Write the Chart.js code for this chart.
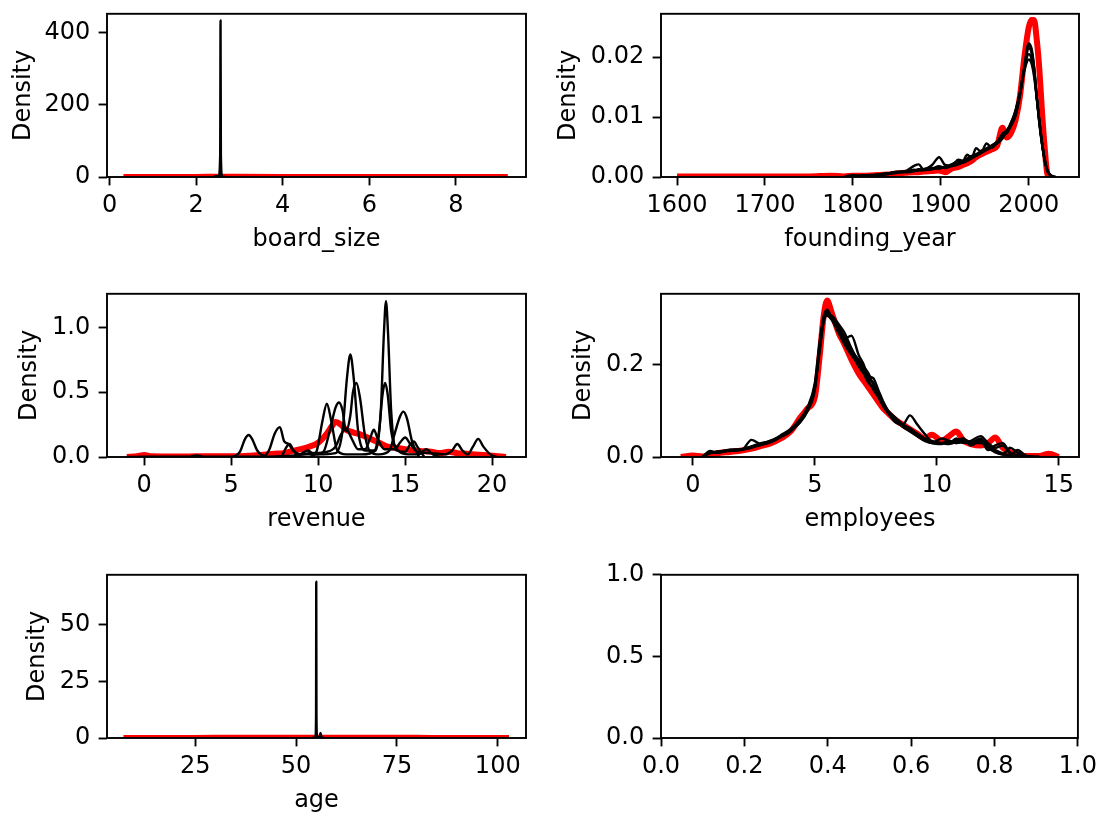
<!DOCTYPE html>
<html>
<head>
<meta charset="utf-8">
<script src="https://cdn.jsdelivr.net/npm/chart.js@4.4.1/dist/chart.umd.min.js"></script>
<style>
html, body { margin: 0; padding: 0; background: #fff; }
body { width: 1103px; height: 818px; position: relative; overflow: hidden; }
canvas { position: absolute; }
</style>
</head>
<body>
<canvas id="board" width="550" height="266" style="left:0px;top:-9px"></canvas>
<canvas id="found" width="553" height="266" style="left:550px;top:-9px"></canvas>
<canvas id="revenue" width="550" height="266" style="left:0px;top:271px"></canvas>
<canvas id="employees" width="553" height="266" style="left:550px;top:271px"></canvas>
<canvas id="age" width="550" height="266" style="left:0px;top:552px"></canvas>
<canvas id="empty" width="553" height="266" style="left:550px;top:552px"></canvas>
<script>
// board_size
var boardRedX = [0.32, 1.0, 2.0, 2.56, 3.0, 4.0, 5.0, 6.0, 7.0, 8.0, 9.2];
var boardRedY = [0.05, 0.1, 0.3, 0.5, 0.4, 0.3, 0.25, 0.2, 0.15, 0.1, 0.05];
var boardX = [2.40, 2.47, 2.52, 2.555, 2.563, 2.571, 2.60, 2.70];
var boardY = [0, 2.5, 1, 60, 434, 60, 1, 0];
var boardXTicks = ['0', '2', '4', '6', '8'];
var boardYTicks = ['0', '200', '400'];

// founding_year
var foundX = [1600, 1650, 1700, 1750, 1775, 1790, 1800, 1810, 1825, 1840, 1850, 1860, 1870, 1875, 1880, 1890, 1898, 1905, 1912, 1920, 1925, 1930, 1935, 1940, 1946, 1952, 1958, 1964, 1970, 1975, 1980, 1985, 1990, 1995, 2000, 2003, 2006, 2009, 2012, 2015, 2018, 2021, 2024, 2027, 2030, 2035];
var foundRed = [0.0001, 0.0001, 0.0001, 0.0001, 0.0002, 0.0001, 0.0002, 0.0002, 0.0003, 0.0004, 0.0006, 0.0007, 0.0008, 0.0008, 0.0009, 0.001, 0.0011, 0.0008, 0.0014, 0.0017, 0.002, 0.0023, 0.0027, 0.0033, 0.0038, 0.0042, 0.0046, 0.0052, 0.0082, 0.0066, 0.0074, 0.0095, 0.0135, 0.020, 0.025, 0.0262, 0.0262, 0.023, 0.018, 0.011, 0.005, 0.0006, 0, null, null, null];
var found1 = [null, null, null, null, null, 0, 0.0003, 0.0001, 0.0003, 0.0006, 0.0008, 0.001, 0.0019, 0.0021, 0.0013, 0.002, 0.0033, 0.002, 0.0019, 0.0029, 0.0027, 0.0037, 0.0032, 0.0048, 0.0042, 0.0056, 0.0049, 0.0058, 0.0072, 0.0078, 0.0088, 0.0108, 0.014, 0.0185, 0.0223, 0.0215, 0.0185, 0.0135, 0.009, 0.0055, 0.0028, 0.001, 0.0004, 0.0001, 0, null];
var found2 = [null, null, null, null, null, null, 0.0001, 0.0002, 0.0003, 0.0005, 0.0007, 0.0009, 0.001, 0.0011, 0.0012, 0.0014, 0.0016, 0.0017, 0.0019, 0.0022, 0.0024, 0.0027, 0.0031, 0.0035, 0.004, 0.0045, 0.005, 0.0057, 0.0066, 0.0077, 0.009, 0.0112, 0.0141, 0.0178, 0.0196, 0.019, 0.0168, 0.0132, 0.0094, 0.0058, 0.003, 0.0012, 0.0004, 0.0001, 0, null];
var found3 = [null, null, null, null, null, null, 0.0001, 0.0002, 0.0004, 0.0006, 0.0008, 0.0009, 0.0011, 0.0012, 0.0011, 0.0013, 0.0015, 0.0016, 0.0021, 0.0026, 0.0024, 0.0031, 0.0033, 0.0038, 0.0043, 0.0047, 0.0052, 0.0058, 0.0068, 0.0074, 0.0088, 0.0105, 0.0138, 0.018, 0.0215, 0.0208, 0.018, 0.0135, 0.0093, 0.0057, 0.0029, 0.0011, 0.0004, 0.0001, 0, null];
var found4 = [null, null, null, null, null, null, 0.0002, 0.0002, 0.0003, 0.0005, 0.0009, 0.0009, 0.0012, 0.0011, 0.0013, 0.0015, 0.0014, 0.0017, 0.0018, 0.0021, 0.0025, 0.0028, 0.0034, 0.0037, 0.0041, 0.0048, 0.0051, 0.0056, 0.0064, 0.0076, 0.0092, 0.011, 0.0142, 0.0182, 0.0205, 0.0198, 0.0175, 0.0134, 0.0095, 0.0058, 0.003, 0.0012, 0.0004, 0.0001, 0, null];
var found5 = [null, null, null, null, null, null, 0.0001, 0.0002, 0.0003, 0.0006, 0.0008, 0.0008, 0.001, 0.0013, 0.0012, 0.0014, 0.0018, 0.0015, 0.0019, 0.0023, 0.0027, 0.003, 0.0035, 0.0036, 0.0044, 0.0046, 0.0053, 0.0059, 0.007, 0.0073, 0.0086, 0.0102, 0.0136, 0.0183, 0.022, 0.0212, 0.0182, 0.0133, 0.0091, 0.0056, 0.0028, 0.0011, 0.0004, 0.0001, 0, null];
var foundXTicks = ['1600', '1700', '1800', '1900', '2000'];
var foundYTicks = ['0.00', '0.01', '0.02'];

// revenue
var revRedX = [-1.0, -0.4, 0.0, 0.4, 1.0, 2, 3, 4, 5, 6, 7, 7.5, 8, 8.5, 9, 9.5, 10, 10.5, 10.8, 11.0, 11.3, 11.6, 12.0, 12.5, 13.0, 13.5, 14.0, 14.5, 15.0, 15.5, 16.0, 16.5, 17.0, 17.5, 18.0, 18.5, 19.0, 19.5, 20.0, 20.8];
var revRedY = [0, 0.005, 0.015, 0.005, 0.004, 0.004, 0.005, 0.005, 0.006, 0.01, 0.02, 0.025, 0.03, 0.045, 0.06, 0.08, 0.11, 0.18, 0.24, 0.27, 0.25, 0.21, 0.19, 0.17, 0.14, 0.11, 0.08, 0.07, 0.06, 0.05, 0.045, 0.04, 0.03, 0.04, 0.03, 0.025, 0.02, 0.015, 0.01, 0];
var revX1 = [5.1, 5.5, 5.8, 6.0, 6.2, 6.5, 6.9, 7.2, 7.5, 7.8, 8.05, 8.3, 8.55, 8.9, 9.3];
var revY1 = [0, 0.04, 0.14, 0.17, 0.14, 0.05, 0.01, 0.06, 0.18, 0.23, 0.12, 0.1, 0.05, 0.01, 0];
var revX2 = [9.5, 9.9, 10.25, 10.5, 10.75, 11.1, 11.6, 12.5, 13.3, 13.6, 13.78, 13.9, 14.02, 14.2, 14.5, 15.0, 15.3, 15.5, 15.7, 16.1];
var revY2 = [0, 0.04, 0.28, 0.41, 0.28, 0.05, 0.02, 0.02, 0.05, 0.35, 0.95, 1.2, 0.95, 0.35, 0.05, 0.04, 0.1, 0.12, 0.08, 0];
var revX3 = [8.7, 9.1, 9.4, 9.8, 10.3, 10.7, 11.0, 11.2, 11.4, 11.6, 11.85, 12.0, 12.2, 12.4, 12.7, 13.0, 13.5, 14.1, 14.4, 14.7, 14.9, 15.1, 15.4, 15.8];
var revY3 = [0, 0.03, 0.05, 0.02, 0.04, 0.22, 0.38, 0.42, 0.36, 0.2, 0.32, 0.5, 0.57, 0.46, 0.16, 0.04, 0.02, 0.05, 0.18, 0.31, 0.35, 0.3, 0.12, 0];
var revX4 = [7.9, 8.15, 8.35, 8.6, 9.0, 10.0, 11.0, 11.4, 11.65, 11.85, 12.05, 12.3, 12.7, 13.2, 13.5, 13.7, 13.85, 14.0, 14.2, 14.6, 15.2, 15.8, 16.2, 16.6, 17.0];
var revY4 = [0, 0.07, 0.1, 0.05, 0.02, 0.02, 0.03, 0.2, 0.6, 0.79, 0.6, 0.2, 0.05, 0.05, 0.2, 0.48, 0.57, 0.48, 0.2, 0.05, 0.02, 0.02, 0.06, 0.02, 0];
var revX5 = [-1.0, 0.0, 1.5, 2.6, 3.0, 3.4, 5.0, 7.0, 8.5, 9.5, 10.5, 11.0, 11.3, 11.6, 11.9, 12.3, 12.7, 13.0, 13.2, 13.4, 13.8, 14.4, 14.7, 15.0, 15.3, 15.7, 16.5, 17.3, 17.7, 18.0, 18.3, 18.6, 18.9, 19.2, 19.5, 19.9, 20.3];
var revY5 = [0, 0.002, 0.002, 0.003, 0.012, 0.003, 0.002, 0.003, 0.01, 0.03, 0.04, 0.08, 0.17, 0.22, 0.15, 0.06, 0.06, 0.15, 0.21, 0.15, 0.06, 0.06, 0.11, 0.15, 0.1, 0.04, 0.03, 0.02, 0.05, 0.1, 0.05, 0.02, 0.08, 0.14, 0.08, 0.02, 0];
var revXTicks = ['0', '5', '10', '15', '20'];
var revYTicks = ['0.0', '0.5', '1.0'];

// employees
var empX = [-0.5, 0, 0.4, 0.7, 1.0, 1.5, 2.0, 2.4, 2.8, 3.2, 3.6, 4.0, 4.4, 4.7, 5.0, 5.2, 5.35, 5.5, 5.7, 6.0, 6.2, 6.5, 6.8, 7.0, 7.2, 7.4, 7.6, 7.8, 8.0, 8.3, 8.6, 8.9, 9.2, 9.5, 9.8, 10.2, 10.5, 10.8, 11.1, 11.4, 11.8, 12.1, 12.4, 12.7, 13.0, 13.3, 13.7, 14.2, 14.6, 15.0];
var empRed = [0, 0.003, 0.001, 0.004, 0.008, 0.011, 0.014, 0.018, 0.024, 0.03, 0.04, 0.055, 0.085, 0.105, 0.13, 0.22, 0.30, 0.338, 0.31, 0.265, 0.245, 0.21, 0.18, 0.165, 0.15, 0.135, 0.12, 0.105, 0.095, 0.08, 0.07, 0.06, 0.05, 0.04, 0.048, 0.035, 0.045, 0.055, 0.035, 0.028, 0.025, 0.03, 0.042, 0.02, 0.01, 0.004, 0.002, 0.002, 0.007, 0];
var emp1 = [null, null, 0, 0.013, 0.009, 0.014, 0.015, 0.037, 0.028, 0.033, 0.045, 0.056, 0.075, 0.1, 0.15, 0.23, 0.29, 0.315, 0.3, 0.275, 0.255, 0.262, 0.22, 0.2, 0.17, 0.16, 0.13, 0.11, 0.095, 0.075, 0.07, 0.09, 0.07, 0.05, 0.033, 0.03, 0.035, 0.03, 0.032, 0.03, 0.04, 0.02, 0.01, 0.005, 0.003, 0.015, 0.002, 0, null, null];
var emp2 = [null, null, 0.001, 0.01, 0.01, 0.015, 0.017, 0.022, 0.027, 0.036, 0.045, 0.058, 0.078, 0.105, 0.155, 0.235, 0.29, 0.31, 0.305, 0.285, 0.27, 0.235, 0.205, 0.19, 0.175, 0.17, 0.145, 0.12, 0.1, 0.08, 0.065, 0.055, 0.045, 0.035, 0.03, 0.04, 0.035, 0.03, 0.035, 0.03, 0.03, 0.025, 0.015, 0.008, 0.004, 0.002, 0, null, null, null];
var emp3 = [null, null, 0.002, 0.008, 0.012, 0.013, 0.016, 0.02, 0.026, 0.032, 0.043, 0.055, 0.08, 0.1, 0.145, 0.24, 0.3, 0.318, 0.3, 0.27, 0.25, 0.225, 0.195, 0.18, 0.16, 0.15, 0.14, 0.115, 0.095, 0.085, 0.07, 0.06, 0.05, 0.04, 0.035, 0.03, 0.03, 0.04, 0.03, 0.035, 0.045, 0.03, 0.02, 0.025, 0.008, 0.003, 0.001, 0, null, null];
var emp4 = [null, null, 0.001, 0.009, 0.011, 0.016, 0.017, 0.021, 0.029, 0.034, 0.047, 0.06, 0.082, 0.108, 0.16, 0.25, 0.295, 0.305, 0.295, 0.265, 0.245, 0.22, 0.2, 0.185, 0.165, 0.145, 0.13, 0.112, 0.098, 0.082, 0.068, 0.058, 0.048, 0.038, 0.03, 0.028, 0.032, 0.036, 0.04, 0.025, 0.035, 0.015, 0.025, 0.03, 0.01, 0.004, 0.001, 0, null, null];
var emp5 = [null, null, 0.001, 0.011, 0.01, 0.014, 0.016, 0.023, 0.03, 0.035, 0.044, 0.057, 0.076, 0.102, 0.15, 0.245, 0.3, 0.312, 0.298, 0.28, 0.26, 0.23, 0.21, 0.195, 0.18, 0.155, 0.135, 0.118, 0.1, 0.085, 0.07, 0.062, 0.05, 0.04, 0.032, 0.03, 0.028, 0.032, 0.038, 0.032, 0.038, 0.022, 0.012, 0.006, 0.02, 0.01, 0.002, 0, null, null];
var empXTicks = ['0', '5', '10', '15'];
var empYTicks = ['0.0', '0.2'];

// age
var ageRedX = [7.2, 20, 30, 40, 50, 55, 60, 70, 80, 90, 102.8];
var ageRedY = [0.02, 0.04, 0.06, 0.08, 0.09, 0.1, 0.09, 0.08, 0.06, 0.04, 0.02];
var ageX = [54.0, 54.8, 54.95, 55.0, 55.05, 55.2, 55.8, 56.05, 56.3, 57.0];
var ageY = [0, 0.5, 10, 69, 10, 0.5, 0.3, 2.2, 0.3, 0];
var ageXTicks = ['25', '50', '75', '100'];
var ageYTicks = ['0', '25', '50'];

// empty panel
var emptyXTicks = ['0.0', '0.2', '0.4', '0.6', '0.8', '1.0'];
var emptyYTicks = ['0.0', '0.5', '1.0'];

Chart.defaults.font.family = 'DejaVu Sans';
Chart.defaults.font.size = 24;
Chart.defaults.color = '#000';

function pts(xs, ys) {
	return xs.map(function(x, i) { return {x: x, y: ys[i]}; });
}

function line(xs, ys, colour, width, order) {
	return {
		data: pts(xs, ys),
		borderColor: colour,
		borderWidth: width,
		pointRadius: 0,
		fill: false,
		tension: 0.4,
		cubicInterpolationMode: 'monotone',
		borderJoinStyle: 'round',
		order: order
	};
}
function red(xs, ys) { return line(xs, ys, '#ff0000', 6, 1); }
function black(xs, ys) { return line(xs, ys, '#000000', 2.4, 0); }

// matplotlib style box around the axes
var frame = {
	id: 'frame',
	afterDraw: function(chart) {
		var a = chart.chartArea, ctx = chart.ctx;
		ctx.save();
		ctx.strokeStyle = '#000';
		ctx.lineWidth = 1.9;
		ctx.strokeRect(a.left, a.top, a.right - a.left, a.bottom - a.top);
		ctx.restore();
	}
};

function panel(id, p) {
	return new Chart(document.getElementById(id), {
		type: 'line',
		data: { datasets: p.datasets },
		options: {
			responsive: false,
			animation: false,
			events: [],
			layout: { padding: { top: 20, right: 24, left: 0, bottom: 0 } },
			plugins: { legend: { display: false }, tooltip: { enabled: false } },
			scales: {
				x: {
					type: 'linear', min: p.xMin, max: p.xMax,
					afterBuildTicks: function(s) { s.ticks = p.xTicks.map(function(t) { return {value: parseFloat(t)}; }); },
					afterFit: function(s) { s.height = 80; },
					ticks: { autoSkip: false, maxRotation: 0, minRotation: 0, padding: 6,
						callback: function(v, i) { return p.xTicks[i]; } },
					grid: { drawOnChartArea: false, tickLength: 8.4, tickWidth: 1.9, tickColor: '#000' },
					border: { display: false },
					title: { display: !!p.xTitle, text: p.xTitle || '', padding: { top: 0, bottom: 3 } }
				},
				y: {
					type: 'linear', min: p.yMin, max: p.yMax,
					afterBuildTicks: function(s) { s.ticks = p.yTicks.map(function(t) { return {value: parseFloat(t)}; }); },
					afterFit: function(s) { s.width = p.yWidth; },
					ticks: { autoSkip: false, padding: 8.4,
						callback: function(v, i) { return p.yTicks[i]; } },
					grid: { drawOnChartArea: false, tickLength: 8.4, tickWidth: 1.9, tickColor: '#000' },
					border: { display: false },
					title: { display: !!p.yTitle, text: p.yTitle || '', padding: { top: p.yPad || 0, bottom: 0 } }
				}
			}
		},
		plugins: [frame]
	});
}

panel('board', {
	datasets: [black(boardX, boardY), red(boardRedX, boardRedY)],
	xMin: -0.06, xMax: 9.62, yMin: 0, yMax: 452.7,
	xTicks: boardXTicks, yTicks: boardYTicks,
	xTitle: 'board_size', yTitle: 'Density', yWidth: 107, yPad: 9
});

panel('found', {
	datasets: [black(foundX, found1), black(foundX, found2), black(foundX, found3), black(foundX, found4), black(foundX, found5), red(foundX, foundRed)],
	xMin: 1581.8, xMax: 2057.1, yMin: 0, yMax: 0.02723,
	xTicks: foundXTicks, yTicks: foundYTicks,
	xTitle: 'founding_year', yTitle: 'Density', yWidth: 111, yPad: 4
});

panel('revenue', {
	datasets: [black(revX1, revY1), black(revX2, revY2), black(revX3, revY3), black(revX4, revY4), black(revX5, revY5), red(revRedX, revRedY)],
	xMin: -2.14, xMax: 21.95, yMin: 0, yMax: 1.258,
	xTicks: revXTicks, yTicks: revYTicks,
	xTitle: 'revenue', yTitle: 'Density', yWidth: 107, yPad: 15
});

panel('employees', {
	datasets: [black(empX, emp1), black(empX, emp2), black(empX, emp3), black(empX, emp4), black(empX, emp5), red(empX, empRed)],
	xMin: -1.31, xMax: 15.83, yMin: 0, yMax: 0.3525,
	xTicks: empXTicks, yTicks: empYTicks,
	xTitle: 'employees', yTitle: 'Density', yWidth: 111, yPad: 19
});

panel('age', {
	datasets: [black(ageX, ageY), red(ageRedX, ageRedY)],
	xMin: 3.12, xMax: 107.0, yMin: 0, yMax: 72.06,
	xTicks: ageXTicks, yTicks: ageYTicks,
	xTitle: 'age', yTitle: 'Density', yWidth: 107, yPad: 23
});

panel('empty', {
	datasets: [],
	xMin: 0, xMax: 1, yMin: 0, yMax: 1,
	xTicks: emptyXTicks, yTicks: emptyYTicks,
	yWidth: 111
});
</script>
</body>
</html>
